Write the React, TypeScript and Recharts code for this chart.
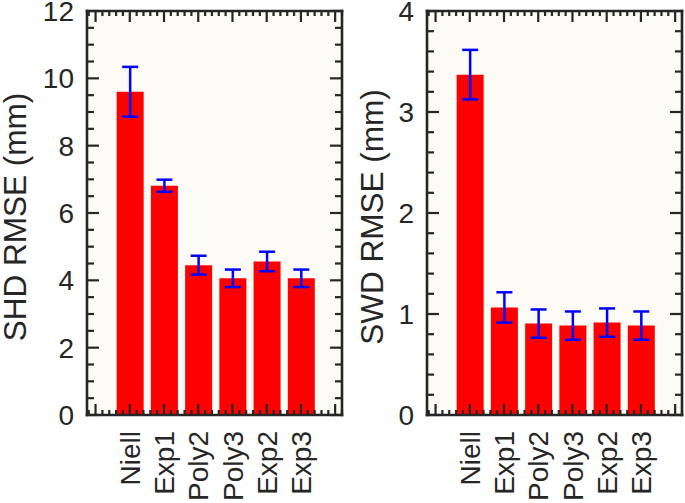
import React from 'react';
import { BarChart, Bar, XAxis, YAxis, ErrorBar, CartesianGrid } from 'recharts';

const categories = ['Niell', 'Exp1', 'Poly2', 'Poly3', 'Exp2', 'Exp3'];
const positions = [1, 2, 3, 4, 5, 6];
const shdValues = [9.6, 6.81, 4.45, 4.06, 4.56, 4.06];
const shdErrors = [0.74, 0.18, 0.28, 0.26, 0.29, 0.26];
const swdValues = [3.37, 1.065, 0.905, 0.885, 0.915, 0.885];
const swdErrors = [0.245, 0.15, 0.14, 0.14, 0.14, 0.14];
const shdYLabel = 'SHD RMSE (mm)';
const swdYLabel = 'SWD RMSE (mm)';

const FONT = '"Liberation Sans", Arial, Helvetica, sans-serif';
const INK = '#262626';
const BG = '#FCFBF5';
const H = 503;
const PLOT_TOP = 11;
const PLOT_BOTTOM = 415;
const LABEL_TOP = 431;
const X_DOMAIN: [number, number] = [-0.25, 7.2];

const isMultiple = (v: number, step: number) => Math.abs(v / step - Math.round(v / step)) < 1e-6;

function Panel(props: any) {
  const { left, width, plotLeft, yLabel, labelX, values, errors, yMax, majorStep, minorStep } = props;
  const plotRight = width - 3;
  const data = categories.map((c, i) => ({ name: c, pos: positions[i], value: values[i], err: errors[i] }));
  const yTicks: number[] = [];
  for (let k = 0; k <= Math.round(yMax / minorStep); k++) yTicks.push(+(k * minorStep).toFixed(3));
  const xTicks: number[] = [];
  for (let k = -1; k <= 36; k++) xTicks.push(+(k * 0.2).toFixed(2));
  const unit = (plotRight - plotLeft) / (X_DOMAIN[1] - X_DOMAIN[0]);
  const padL = (1 - X_DOMAIN[0]) * unit - unit / 2;
  const padR = (X_DOMAIN[1] - 6) * unit - unit / 2;

  const yTickLeft = (p: any) => {
    const v = p.payload.value;
    const major = isMultiple(v, majorStep);
    return (
      <g>
        <line x1={plotLeft} x2={plotLeft + (major ? 12 : 7)} y1={p.y} y2={p.y} stroke={INK} strokeWidth={2.2} />
        {major && (
          <text x={plotLeft - 13} y={p.y} dy="0.36em" textAnchor="end" fontSize={28} fontFamily={FONT} fill={INK}>
            {v}
          </text>
        )}
      </g>
    );
  };
  const yTickRight = (p: any) => {
    const v = p.payload.value;
    const major = isMultiple(v, majorStep);
    return <line x1={plotRight} x2={plotRight - (major ? 12 : 7)} y1={p.y} y2={p.y} stroke={INK} strokeWidth={2.2} />;
  };
  const xTickBottom = (p: any) => {
    const v = p.payload.value;
    const major = isMultiple(v, 1);
    const idx = positions.indexOf(Math.round(v));
    const showLabel = major && idx >= 0;
    return (
      <g>
        <line x1={p.x} x2={p.x} y1={PLOT_BOTTOM} y2={PLOT_BOTTOM - (major ? 11 : 5)} stroke={INK} strokeWidth={2.2} />
        {showLabel && (
          <text
            transform={`translate(${p.x},${LABEL_TOP}) rotate(-90)`}
            dy="0.36em"
            textAnchor="end"
            fontSize={28}
            fontFamily={FONT}
            fill={INK}
          >
            {categories[idx]}
          </text>
        )}
      </g>
    );
  };
  const xTickTop = (p: any) => {
    const v = p.payload.value;
    const major = isMultiple(v, 1);
    return <line x1={p.x} x2={p.x} y1={PLOT_TOP} y2={PLOT_TOP + (major ? 11 : 5)} stroke={INK} strokeWidth={2.2} />;
  };
  const axisLine = { stroke: INK, strokeWidth: 2.6, strokeLinecap: 'square' as const };
  const layer: React.CSSProperties = { position: 'absolute', left: 0, top: 0 };

  return (
    <div style={{ position: 'absolute', left, top: 0, width, height: H }}>
      <div style={layer}>
        <BarChart
          width={width}
          height={H}
          data={data}
          margin={{ top: PLOT_TOP, right: width - plotRight, bottom: H - PLOT_BOTTOM, left: plotLeft }}
        >
          <CartesianGrid xAxisId="cat" yAxisId="l" fill={BG} horizontal={false} vertical={false} stroke="none" />
          <XAxis xAxisId="cat" dataKey="name" type="category" hide height={0} padding={{ left: padL, right: padR }} />
          <YAxis yAxisId="l" type="number" hide width={0} domain={[0, yMax]} allowDataOverflow />
          <Bar xAxisId="cat" yAxisId="l" dataKey="value" fill="#FF0000" barSize={27} isAnimationActive={false}>
            <ErrorBar dataKey="err" direction="y" width={8} stroke="#0000FF" strokeWidth={2.5} isAnimationActive={false} />
          </Bar>
        </BarChart>
      </div>
      <div style={layer}>
        <BarChart width={width} height={H} data={data} margin={{ top: 0, right: 0, bottom: 0, left: 0 }}>
          <XAxis
            xAxisId="nb"
            dataKey="pos"
            type="number"
            orientation="bottom"
            height={H - PLOT_BOTTOM}
            domain={X_DOMAIN}
            allowDataOverflow
            ticks={xTicks}
            interval={0}
            axisLine={axisLine}
            tickLine={false}
            tick={xTickBottom}
          />
          <XAxis
            xAxisId="nt"
            dataKey="pos"
            type="number"
            orientation="top"
            height={PLOT_TOP}
            domain={X_DOMAIN}
            allowDataOverflow
            ticks={xTicks}
            interval={0}
            axisLine={axisLine}
            tickLine={false}
            tick={xTickTop}
          />
          <YAxis
            yAxisId="l"
            type="number"
            width={plotLeft}
            domain={[0, yMax]}
            allowDataOverflow
            ticks={yTicks}
            interval={0}
            axisLine={axisLine}
            tickLine={false}
            tick={yTickLeft}
            label={{
              value: yLabel,
              content: () => (
                <text
                  transform={`translate(${labelX},217) rotate(-90)`}
                  textAnchor="middle"
                  fontSize={31.5}
                  fontFamily={FONT}
                  fill={INK}
                >
                  {yLabel}
                </text>
              ),
            }}
          />
          <YAxis
            yAxisId="r"
            type="number"
            orientation="right"
            width={width - plotRight}
            domain={[0, yMax]}
            allowDataOverflow
            ticks={yTicks}
            interval={0}
            axisLine={axisLine}
            tickLine={false}
            tick={yTickRight}
          />
        </BarChart>
      </div>
    </div>
  );
}

export default function App() {
  return (
    <div style={{ position: 'absolute', left: 0, top: 0, width: 685, height: H, background: '#ffffff' }}>
      <Panel
        left={0}
        width={345}
        plotLeft={87}
        yLabel={shdYLabel}
        labelX={26}
        values={shdValues}
        errors={shdErrors}
        yMax={12}
        majorStep={2}
        minorStep={0.5}
      />
      <Panel
        left={345}
        width={340}
        plotLeft={82}
        yLabel={swdYLabel}
        labelX={38}
        values={swdValues}
        errors={swdErrors}
        yMax={4}
        majorStep={1}
        minorStep={0.2}
      />
    </div>
  );
}
